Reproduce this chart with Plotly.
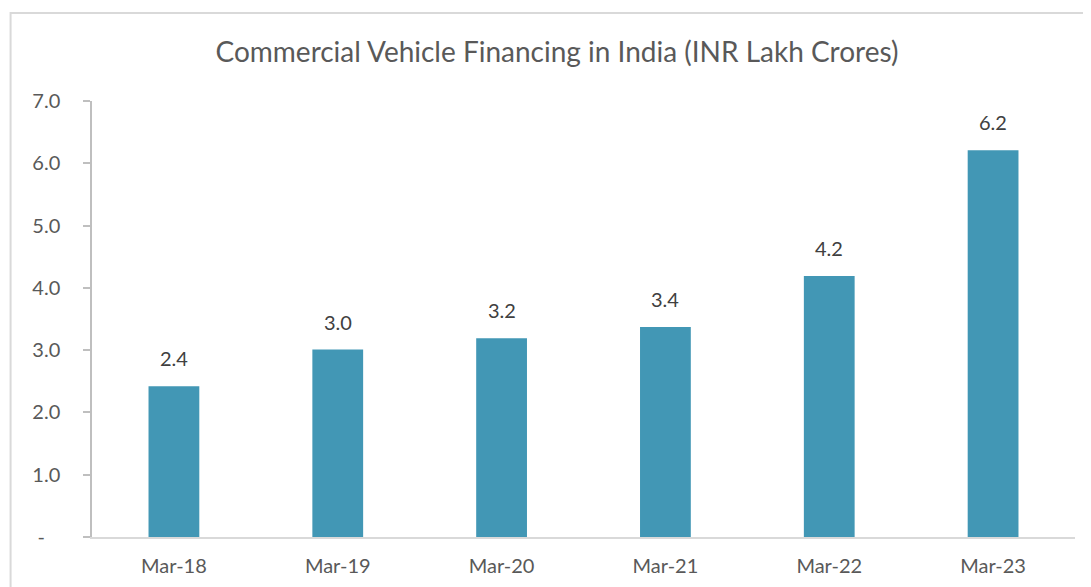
import plotly.graph_objects as go

categories = ["Mar-18", "Mar-19", "Mar-20", "Mar-21", "Mar-22", "Mar-23"]
values = [2.42, 3.01, 3.19, 3.37, 4.19, 6.21]
y_tickvals = [0, 1, 2, 3, 4, 5, 6, 7]
y_ticktext = ["-\u00a0\u00a0\u00a0", "1.0", "2.0", "3.0", "4.0", "5.0", "6.0", "7.0"]
title_text = "Commercial Vehicle Financing in India (INR Lakh Crores)"

FONT = "Lato, 'Open Sans', sans-serif"

# page body offset (default 8px margin)
OFF = 8
W, H = 1091 - OFF, 587 - OFF
l = 91.5 - OFF
t = 101 - OFF
r = 15.5
b = 50
pw, ph = W - l - r, H - t - b

fig = go.Figure()
fig.add_trace(go.Bar(
    x=categories, y=values,
    marker=dict(color="#4297b5", line=dict(width=0)),
    width=0.31,
    hoverinfo="x+y",
))

for c, v in zip(categories, values):
    fig.add_annotation(x=c, y=v, text=f"{v:.1f}", showarrow=False,
                       yanchor="bottom", yshift=14,
                       font=dict(family=FONT, size=20, color="#404040"))

fig.update_layout(
    width=W, height=H,
    margin=dict(l=l, r=r, t=t, b=b, autoexpand=False),
    paper_bgcolor="white", plot_bgcolor="white",
    showlegend=False,
    title=dict(text=title_text, x=(557 - OFF) / W, xanchor="center", y=1 - (52 - OFF) / H, yanchor="middle",
               font=dict(family=FONT, size=28, color="#595959")),
    xaxis=dict(showgrid=False, showline=True, linecolor="#d9d9d9", linewidth=2, automargin=False,
               ticks="", tickfont=dict(family=FONT, size=20, color="#595959"),
               ticklabelstandoff=10),
    yaxis=dict(range=[0, 7], tickvals=y_tickvals, ticktext=y_ticktext, automargin=False,
               showgrid=False, zeroline=False, showline=True, linecolor="#bfbfbf", linewidth=1.5,
               ticks="outside", ticklen=7, tickcolor="#bfbfbf", tickwidth=1.5,
               tickfont=dict(family=FONT, size=20, color="#595959"),
               ticklabelstandoff=19),
    font=dict(family=FONT),
)

# chart area border
fig.add_shape(type="rect", xref="paper", yref="paper",
              x0=(10 - OFF - l) / pw, x1=(W + 20 - l) / pw,
              y0=-(H + 20 - (t + ph)) / ph, y1=(t + ph - (13 - OFF)) / ph,
              line=dict(color="#d9d9d9", width=2), fillcolor="rgba(0,0,0,0)", layer="below")

fig.write_html("out.html")
